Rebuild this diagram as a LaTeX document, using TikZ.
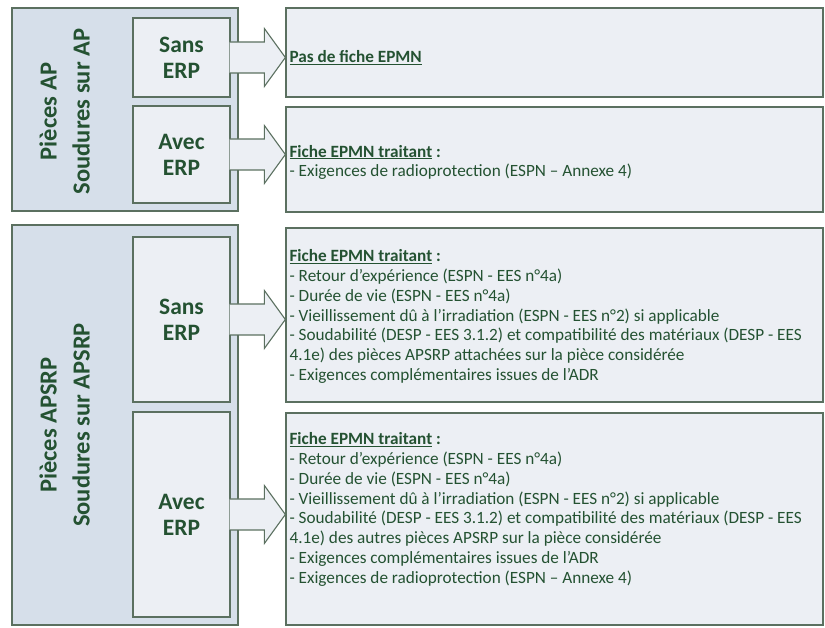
\documentclass[tikz,border=0pt]{standalone}
\usepackage{fontspec}
\setmainfont{Carlito}
\usetikzlibrary{calc}
\definecolor{edgegreen}{HTML}{5B7060}
\definecolor{textgreen}{HTML}{245232}
\definecolor{groupfill}{HTML}{D6DFEA}
\definecolor{boxfill}{HTML}{ECEFF4}
\tikzset{
	groupbox/.style={draw=edgegreen,fill=groupfill,line width=1.3pt,inner sep=0pt,minimum width=226pt},
	casebox/.style={draw=edgegreen,fill=boxfill,line width=1.3pt,inner sep=0pt,minimum width=97pt,align=center,text=textgreen,font=\fontsize{23.5}{26}\selectfont\bfseries},
	fichebox/.style={draw=edgegreen,fill=boxfill,line width=1.3pt,inner sep=0pt,minimum width=537pt},
	grouplabel/.style={rotate=90,align=center,text=textgreen,font=\fontsize{24.5}{33}\selectfont\bfseries},
	fichetext/.style={anchor=west,align=left,inner sep=0pt,text=textgreen,font=\fontsize{17.2}{19.8}\selectfont},
	arrowfill/.style={fill=boxfill},
	arrowline/.style={draw=edgegreen,line width=1.1pt,line join=miter}
}
\newcommand{\fatarrow}[2]{
	\coordinate (tip) at (#1.east -| #2.west);
	\fill[arrowfill] ($(#1.east)+(-1,15.5)$) -- ($(tip)+(-21,15.5)$) -- ($(tip)+(-21,29)$) -- (tip) -- ($(tip)+(-21,-29)$) -- ($(tip)+(-21,-15.5)$) -- ($(#1.east)+(-1,-15.5)$) -- cycle;
	\draw[arrowline] ($(#1.east)+(-1,15.5)$) -- ($(tip)+(-21,15.5)$) -- ($(tip)+(-21,29)$) -- (tip) -- ($(tip)+(-21,-29)$) -- ($(tip)+(-21,-15.5)$) -- ($(#1.east)+(-1,-15.5)$);
}
\newcommand{\fichehead}{\underline{\textbf{Fiche EPMN traitant}}\textbf{ :}}

\begin{document}
\begin{tikzpicture}[x=1pt,y=1pt]
	\useasboundingbox (0,0) rectangle (825,628);

	\node[groupbox,minimum height=203pt] (grpAP) at (125,518.5) {};
	\node[grouplabel] (lblAP) at (64.5,516.5) {Pièces AP\\Soudures sur AP};
	\node[casebox,minimum height=79pt] (sansAP) at (181.5,570.5) {Sans\\ERP};
	\node[casebox,minimum height=97pt] (avecAP) at (181.5,473.5) {Avec\\ERP};

	\node[groupbox,minimum height=400pt] (grpAPSRP) at (125,203) {};
	\node[grouplabel] (lblAPSRP) at (64.5,203) {Pièces APSRP\\Soudures sur APSRP};
	\node[casebox,minimum height=165pt] (sansAPSRP) at (181.5,308.5) {Sans\\ERP};
	\node[casebox,minimum height=205pt] (avecAPSRP) at (181.5,113.5) {Avec\\ERP};

	\node[fichebox,minimum height=89pt] (ficheA) at (554.5,575.5) {};
	\node[fichebox,minimum height=105pt] (ficheB) at (554.5,468.5) {};
	\node[fichebox,minimum height=174pt] (ficheC) at (554.5,313) {};
	\node[fichebox,minimum height=212pt] (ficheD) at (554.5,109) {};

	\fatarrow{sansAP}{ficheA}
	\fatarrow{avecAP}{ficheB}
	\fatarrow{sansAPSRP}{ficheC}
	\fatarrow{avecAPSRP}{ficheD}

	\node[fichetext] (txtA) at ($(sansAP.east -| ficheA.west)+(4,0)$) {\underline{\textbf{Pas de fiche EPMN}}};
	\node[fichetext] (txtB) at ($(avecAP.east -| ficheB.west)+(4,-8)$) {\fichehead\\
		- Exigences de radioprotection (ESPN – Annexe 4)};
	\node[fichetext] (txtC) at ($(sansAPSRP.east -| ficheC.west)+(4,3)$) {\fichehead\\
		- Retour d’expérience (ESPN - EES n°4a)\\
		- Durée de vie (ESPN - EES n°4a)\\
		- Vieillissement dû à l’irradiation (ESPN - EES n°2) si applicable\\
		- Soudabilité (DESP - EES 3.1.2) et compatibilité des matériaux (DESP - EES\\
		4.1e) des pièces APSRP attachées sur la pièce considérée\\
		- Exigences complémentaires issues de l’ADR};
	\node[fichetext] (txtD) at ($(avecAPSRP.east -| ficheD.west)+(4,5)$) {\fichehead\\
		- Retour d’expérience (ESPN - EES n°4a)\\
		- Durée de vie (ESPN - EES n°4a)\\
		- Vieillissement dû à l’irradiation (ESPN - EES n°2) si applicable\\
		- Soudabilité (DESP - EES 3.1.2) et compatibilité des matériaux (DESP - EES\\
		4.1e) des autres pièces APSRP sur la pièce considérée\\
		- Exigences complémentaires issues de l’ADR\\
		- Exigences de radioprotection (ESPN – Annexe 4)};
\end{tikzpicture}
\end{document}
